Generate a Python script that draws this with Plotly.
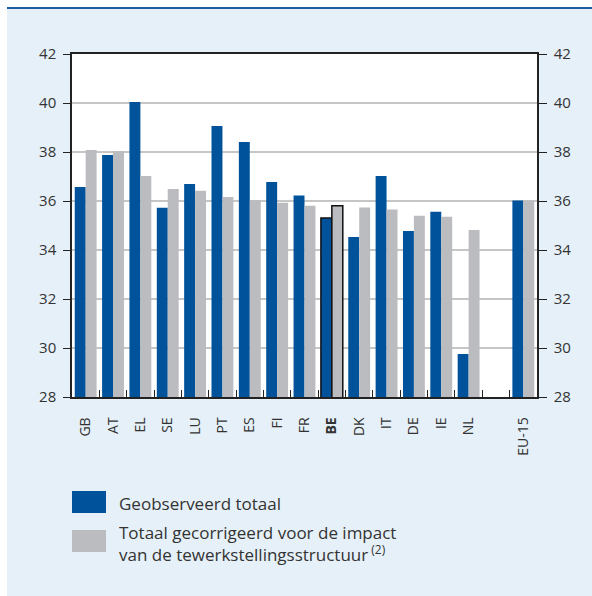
import plotly.graph_objects as go

categories = ["GB", "AT", "EL", "SE", "LU", "PT", "ES", "FI", "FR", "BE",
              "DK", "IT", "DE", "IE", "NL", " ", "EU-15"]
tick_labels = ["GB", "AT", "EL", "SE", "LU", "PT", "ES", "FI", "FR", "<b>BE</b>",
               "DK", "IT", "DE", "IE", "NL", " ", "EU-15"]
observed = [36.57, 37.88, 40.04, 35.72, 36.69, 39.06, 38.41, 36.78, 36.22, 35.31,
            34.53, 37.02, 34.78, 35.56, 29.76, None, 36.02]
corrected = [38.08, 38.04, 37.02, 36.49, 36.42, 36.16, 36.04, 35.93, 35.81, 35.81,
             35.73, 35.65, 35.40, 35.36, 34.82, None, 36.02]
series_names = ["Geobserveerd totaal",
                "Totaal gecorrigeerd voor de impact<br>van de tewerkstellingsstructuur<sup> (2)</sup>"]
y_ticks = [28, 30, 32, 34, 36, 38, 40, 42]

BLUE = "#00539b"
GRAY = "#bbbcc0"
PANEL = "#e6f0f8"
TXT = "#333333"
FONT = "Open Sans"

W, H = 592, 596
L, R, T, B = 72, 537, 54, 397


def px(x):
    return (x - L) / (R - L)


def py(y):
    return (B - y) / (B - T)


hl = [c == "BE" for c in categories]
line_w = [1.5 if h else 0 for h in hl]
line_c = ["#111111" if h else "rgba(0,0,0,0)" for h in hl]

fig = go.Figure()
fig.add_trace(go.Bar(x=categories, y=observed, name=series_names[0],
                     marker=dict(color=BLUE, line=dict(width=line_w, color=line_c))))
fig.add_trace(go.Bar(x=categories, y=corrected, name=series_names[1],
                     marker=dict(color=GRAY, line=dict(width=line_w, color=line_c))))
# invisible trace to carry the right-hand axis
fig.add_trace(go.Scatter(x=[categories[0]], y=[y_ticks[0]], yaxis="y2",
                         mode="markers", marker=dict(opacity=0, size=1), showlegend=False,
                         hoverinfo="skip"))

shapes = [
    dict(type="rect", xref="paper", yref="paper", x0=px(0), x1=px(W), y0=py(7), y1=py(0),
         fillcolor="white", line_width=0, layer="below"),
    dict(type="rect", xref="paper", yref="paper", x0=px(0), x1=px(7), y0=py(H), y1=py(0),
         fillcolor="white", line_width=0, layer="below"),
    dict(type="rect", xref="paper", yref="paper", x0=px(7), x1=px(W), y0=py(9), y1=py(7),
         fillcolor="#1c5c9e", line_width=0, layer="below"),
    dict(type="rect", xref="paper", yref="paper", x0=px(72), x1=px(106), y0=py(513), y1=py(491),
         fillcolor=BLUE, line_width=0),
    dict(type="rect", xref="paper", yref="paper", x0=px(72), x1=px(106), y0=py(552), y1=py(530),
         fillcolor=GRAY, line_width=0),
]

annotations = [
    dict(xref="paper", yref="paper", x=px(117), y=py(503), text=series_names[0],
         showarrow=False, xanchor="left", yanchor="middle",
         font=dict(family=FONT, size=17, color=TXT)),
    dict(xref="paper", yref="paper", x=px(117), y=py(543), text=series_names[1],
         showarrow=False, xanchor="left", yanchor="middle", align="left",
         font=dict(family=FONT, size=17, color=TXT)),
]

fig.update_layout(
    width=W, height=H,
    margin=dict(l=L, r=W - R, t=T, b=H - B, autoexpand=False),
    paper_bgcolor=PANEL, plot_bgcolor="white",
    barmode="group", bargap=0.2, bargroupgap=0,
    showlegend=False,
    font=dict(family=FONT, color=TXT),
    shapes=shapes, annotations=annotations,
    xaxis=dict(type="category", categoryorder="array", categoryarray=categories,
               range=[-0.5, len(categories) - 0.5],
               tickmode="array", tickvals=categories, ticktext=tick_labels,
               tickangle=-90, tickson="boundaries", ticks="inside", ticklen=7,
               tickcolor="#222222", tickwidth=1.3,
               showline=True, linecolor="#222222", linewidth=1.5, mirror=True,
               showgrid=False, ticklabelstandoff=13,
               tickfont=dict(family=FONT, size=14, color=TXT), fixedrange=True),
    yaxis=dict(range=[28, 42], tickvals=y_ticks, ticks="outside", ticklen=7,
               tickcolor="#222222", tickwidth=1.3,
               showline=True, linecolor="#222222", linewidth=1.5,
               showgrid=True, gridcolor="#c6c6c6", gridwidth=1.5, zeroline=False,
               tickfont=dict(family=FONT, size=15, color=TXT), ticklabelstandoff=4),
    yaxis2=dict(range=[28, 42], tickvals=y_ticks, ticks="outside", ticklen=8,
                tickcolor="#222222", tickwidth=1.3, overlaying="y", side="right",
                showline=True, linecolor="#222222", linewidth=1.5,
                showgrid=False, zeroline=False,
                tickfont=dict(family=FONT, size=15, color=TXT), ticklabelstandoff=4),
)

fig.write_html("out.html")
